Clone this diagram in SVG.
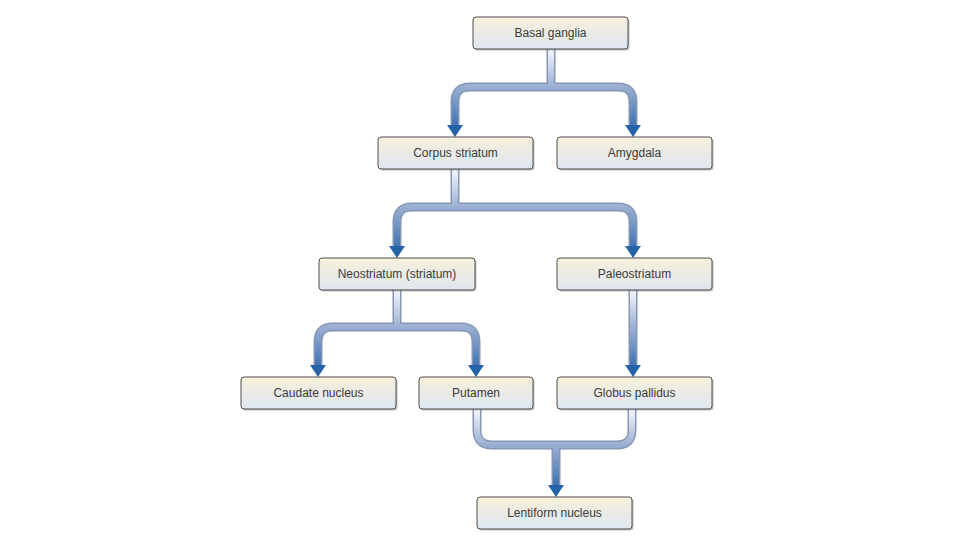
<svg xmlns="http://www.w3.org/2000/svg" width="960" height="540" viewBox="0 0 960 540">
<style>
.box{fill:url(#boxg);stroke:#4d4d4d;stroke-width:1}
.sh{fill:#7a7a7a;opacity:.45}
.lbl{font-family:"Liberation Sans",Arial,sans-serif;font-size:12px;fill:#3a3a3a;text-anchor:middle}
.out{fill:none;stroke:#8696b4;stroke-width:9}
.in{fill:none;stroke-width:6}
.ah{fill:#2463a8}
</style>
<defs>
<linearGradient id="boxg" x1="0" y1="0" x2="0" y2="1">
<stop offset="0" stop-color="#f8f0da"/>
<stop offset="1" stop-color="#dde6f0"/>
</linearGradient>
<linearGradient id="g1" gradientUnits="userSpaceOnUse" x1="0" y1="49" x2="0" y2="137">
<stop offset="0" stop-color="#f6f7fb"/><stop offset="0.43" stop-color="#9aafd2"/><stop offset="1" stop-color="#2563a8"/>
</linearGradient>
<linearGradient id="g2" gradientUnits="userSpaceOnUse" x1="0" y1="169" x2="0" y2="258">
<stop offset="0" stop-color="#f6f7fb"/><stop offset="0.43" stop-color="#9aafd2"/><stop offset="1" stop-color="#2563a8"/>
</linearGradient>
<linearGradient id="g3" gradientUnits="userSpaceOnUse" x1="0" y1="290" x2="0" y2="377">
<stop offset="0" stop-color="#f6f7fb"/><stop offset="0.43" stop-color="#9aafd2"/><stop offset="1" stop-color="#2563a8"/>
</linearGradient>
<linearGradient id="g5" gradientUnits="userSpaceOnUse" x1="0" y1="409" x2="0" y2="497">
<stop offset="0" stop-color="#f6f7fb"/><stop offset="0.41" stop-color="#9aafd2"/><stop offset="1" stop-color="#2563a8"/>
</linearGradient>
<path id="ah" d="M-8,-12 H8 L0,0 Z"/>
</defs>
<rect width="960" height="540" fill="#ffffff"/>
<g id="connectors">
<path class="out" d="M551,49 V87 M455,125 V102 Q455,87 470,87 H618 Q633,87 633,102 V125"/>
<path class="in" stroke="url(#g1)" d="M551,49 V87 M455,126 V102 Q455,87 470,87 H618 Q633,87 633,102 V126"/>
<use href="#ah" class="ah" x="455" y="137"/>
<use href="#ah" class="ah" x="633" y="137"/>
<path class="out" d="M455,169 V207 M397,246 V222 Q397,207 412,207 H618 Q633,207 633,222 V246"/>
<path class="in" stroke="url(#g2)" d="M455,169 V207 M397,247 V222 Q397,207 412,207 H618 Q633,207 633,222 V247"/>
<use href="#ah" class="ah" x="397" y="258"/>
<use href="#ah" class="ah" x="633" y="258"/>
<path class="out" d="M397,290 V327 M318,365 V342 Q318,327 333,327 H461 Q476,327 476,342 V365 M633,290 V365"/>
<path class="in" stroke="url(#g3)" d="M397,290 V327 M318,366 V342 Q318,327 333,327 H461 Q476,327 476,342 V366 M633,290 V366"/>
<use href="#ah" class="ah" x="318" y="377"/>
<use href="#ah" class="ah" x="476" y="377"/>
<use href="#ah" class="ah" x="633" y="377"/>
<path class="out" d="M477,409 V430 Q477,445 492,445 H617 Q632,445 632,430 V409 M556,445 V485"/>
<path class="in" stroke="url(#g5)" d="M477,409 V430 Q477,445 492,445 H617 Q632,445 632,430 V409 M556,445 V486"/>
<use href="#ah" class="ah" x="556" y="497"/>
</g>
<g id="basal"><rect class="sh" x="474.5" y="18.5" width="155" height="32" rx="3"/><rect class="box" x="473" y="17" width="155" height="32" rx="3"/><text class="lbl" x="550.5" y="37">Basal ganglia</text></g>
<g id="corpus"><rect class="sh" x="379.5" y="138.5" width="155" height="32" rx="3"/><rect class="box" x="378" y="137" width="155" height="32" rx="3"/><text class="lbl" x="455.5" y="157">Corpus striatum</text></g>
<g id="amygdala"><rect class="sh" x="558.5" y="138.5" width="155" height="32" rx="3"/><rect class="box" x="557" y="137" width="155" height="32" rx="3"/><text class="lbl" x="634.5" y="157">Amygdala</text></g>
<g id="neostriatum"><rect class="sh" x="320.5" y="259.5" width="156" height="32" rx="3"/><rect class="box" x="319" y="258" width="156" height="32" rx="3"/><text class="lbl" x="397" y="278">Neostriatum (striatum)</text></g>
<g id="paleostriatum"><rect class="sh" x="558.5" y="259.5" width="155" height="32" rx="3"/><rect class="box" x="557" y="258" width="155" height="32" rx="3"/><text class="lbl" x="634.5" y="278">Paleostriatum</text></g>
<g id="caudate"><rect class="sh" x="242.5" y="378.5" width="155" height="32" rx="3"/><rect class="box" x="241" y="377" width="155" height="32" rx="3"/><text class="lbl" x="318.5" y="397">Caudate nucleus</text></g>
<g id="putamen"><rect class="sh" x="420.5" y="378.5" width="114" height="32" rx="3"/><rect class="box" x="419" y="377" width="114" height="32" rx="3"/><text class="lbl" x="476" y="397">Putamen</text></g>
<g id="globus"><rect class="sh" x="558.5" y="378.5" width="155" height="32" rx="3"/><rect class="box" x="557" y="377" width="155" height="32" rx="3"/><text class="lbl" x="634.5" y="397">Globus pallidus</text></g>
<g id="lentiform"><rect class="sh" x="478.5" y="498.5" width="155" height="32" rx="3"/><rect class="box" x="477" y="497" width="155" height="32" rx="3"/><text class="lbl" x="554.5" y="517">Lentiform nucleus</text></g>
</svg>
